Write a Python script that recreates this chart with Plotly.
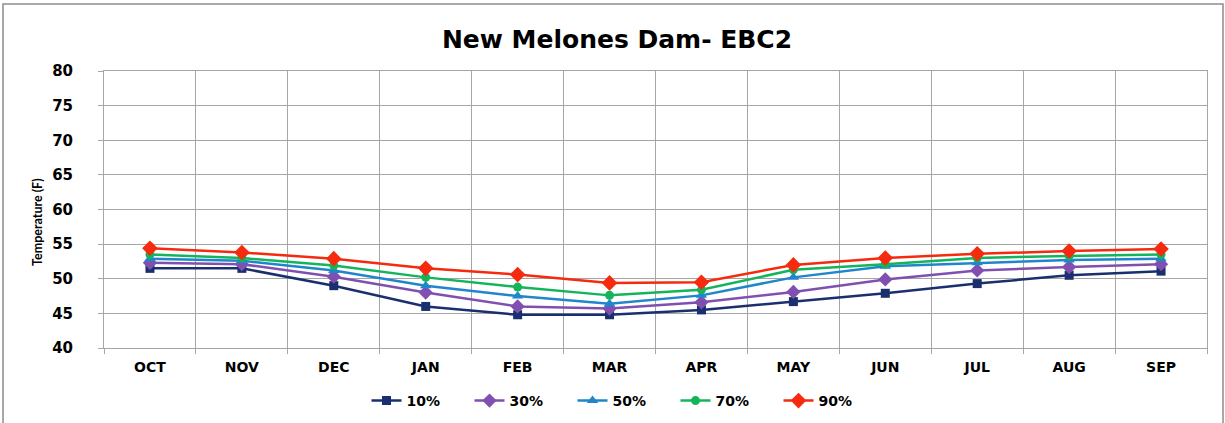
import plotly.graph_objects as go

months = ["OCT", "NOV", "DEC", "JAN", "FEB", "MAR", "APR", "MAY", "JUN", "JUL", "AUG", "SEP"]
p10 = [51.5, 51.5, 49.0, 46.0, 44.8, 44.8, 45.5, 46.7, 47.9, 49.3, 50.5, 51.1]
p30 = [52.3, 52.1, 50.3, 48.0, 46.0, 45.7, 46.6, 48.1, 49.9, 51.2, 51.7, 52.1]
p50 = [52.9, 52.6, 51.2, 49.0, 47.5, 46.4, 47.6, 50.2, 51.8, 52.3, 52.7, 52.9]
p70 = [53.5, 53.0, 51.9, 50.2, 48.8, 47.6, 48.4, 51.3, 52.1, 53.0, 53.3, 53.5]
p90 = [54.4, 53.8, 52.9, 51.5, 50.6, 49.4, 49.5, 52.0, 53.0, 53.6, 54.0, 54.3]

series = [
    ("10%", p10, "#1a2f6e", "square", 9),
    ("30%", p30, "#8050b0", "diamond", 11),
    ("50%", p50, "#1f86cc", "triangle-up", 10),
    ("70%", p70, "#14b45c", "circle", 9),
    ("90%", p90, "#f52a0e", "diamond", 12),
]

FONT = "DejaVu Sans"
fig = go.Figure()
for name, vals, color, sym, sz in series:
    fig.add_trace(go.Scatter(
        x=months, y=vals, name="<b>" + name + "</b>", mode="lines+markers",
        line=dict(color=color, width=2.5),
        marker=dict(color=color, symbol=sym, size=sz),
    ))

L, R, T, B = 104, 1207, 71, 348
W, H = 1225, 423
grid = "#a6a6a6"

fig.update_layout(
    width=W, height=H,
    margin=dict(l=L, r=W - R, t=T, b=H - B, autoexpand=False),
    paper_bgcolor="white", plot_bgcolor="white",
    title=dict(text="<b>New Melones Dam- EBC2</b>", x=617 / W, xanchor="center",
               y=1 - 39 / H, yanchor="middle",
               font=dict(family=FONT, size=25, color="black")),
    font=dict(family=FONT, color="black"),
    showlegend=True,
    legend=dict(orientation="h", x=624 / W, xanchor="center", xref="container",
                y=1 - 401 / H, yref="container", yanchor="middle",
                font=dict(family=FONT, size=14, color="black"),
                entrywidth=58, entrywidthmode="pixels",
                bgcolor="rgba(0,0,0,0)"),
    xaxis=dict(type="category", range=[-0.5, 11.5], tickson="boundaries",
               showgrid=True, gridcolor=grid, gridwidth=1, automargin=False,
               showline=True, linecolor=grid, linewidth=1, mirror=True,
               ticks="outside", ticklen=5, tickcolor=grid, ticklabelstandoff=6,
               tickfont=dict(family=FONT, size=14, color="black"),
               tickprefix="<b>", ticksuffix="</b>"),
    yaxis=dict(range=[40, 80], dtick=5, showgrid=True, gridcolor=grid, gridwidth=1,
               automargin=False,
               showline=True, linecolor=grid, linewidth=1, mirror=True,
               ticks="outside", ticklen=5, tickcolor=grid, ticklabelstandoff=22,
               tickfont=dict(family=FONT, size=15, color="black"),
               tickprefix="<b>", ticksuffix="</b>", zeroline=False),
)

fig.add_annotation(text="<b>Temperature (F)</b>", textangle=-90, showarrow=False,
                   xref="paper", yref="paper",
                   x=(37 - L) / (R - L), y=(B - 222) / (B - T),
                   xanchor="center", yanchor="middle",
                   font=dict(family="Lato", size=12.5, color="black"))

# outer chart border
fig.add_shape(type="rect", xref="paper", yref="paper",
              x0=(3 - L) / (R - L), x1=(1223 - L) / (R - L),
              y0=(B - 430) / (B - T), y1=(B - 4) / (B - T),
              line=dict(color="#8c8c8c", width=1.5), fillcolor="rgba(0,0,0,0)", layer="below")

fig.write_html("out.html", config={"displayModeBar": False},
               post_script="document.body.style.margin='0';document.body.style.overflow='hidden';")
